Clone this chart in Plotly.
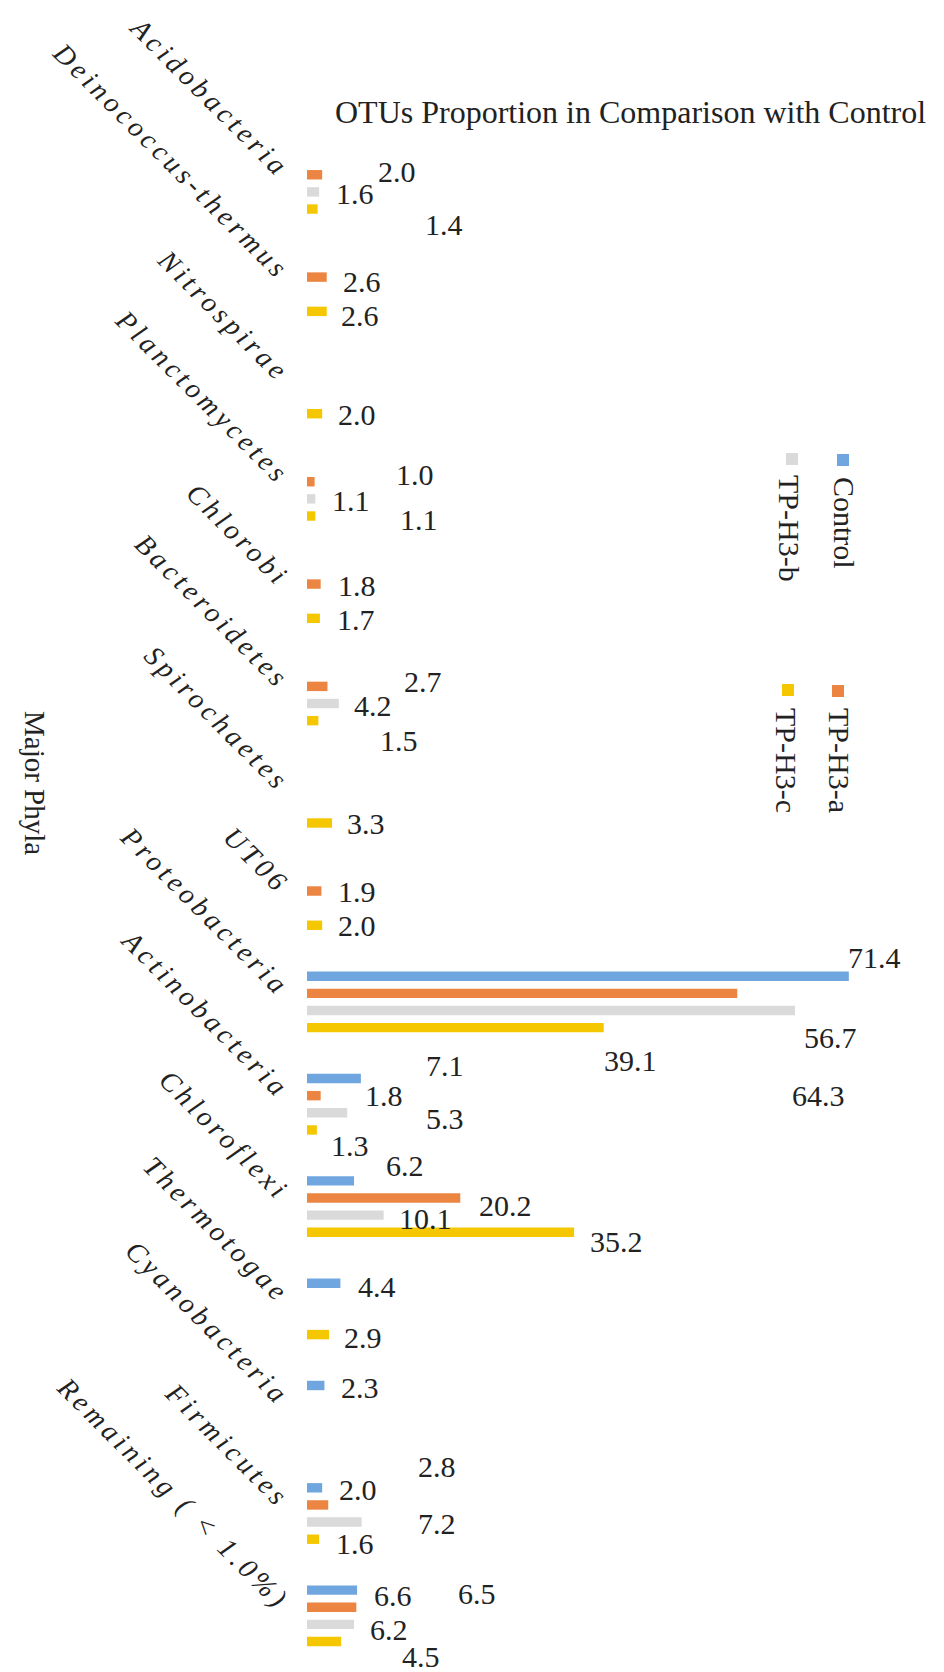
import plotly.graph_objects as go

# ---- data -------------------------------------------------------------
categories = [
    "Acidobacteria", "Deinococcus-thermus", "Nitrospirae", "Planctomycetes",
    "Chlorobi", "Bacteroidetes", "Spirochaetes", "UT06", "Proteobacteria",
    "Actinobacteria", "Chloroflexi", "Thermotogae", "Cyanobacteria",
    "Firmicutes", "Remaining ( &lt; 1.0%)",
]
series_names = ["Control", "TP-H3-a", "TP-H3-b", "TP-H3-c"]

control = [None, None, None, None, None, None, None, None, 71.4, 7.1, 6.2, 4.4, 2.3, 2.0, 6.6]
tp_h3_a = [2.0, 2.6, None, 1.0, 1.8, 2.7, None, 1.9, 56.7, 1.8, 20.2, None, None, 2.8, 6.5]
tp_h3_b = [1.6, None, None, 1.1, None, 4.2, None, None, 64.3, 5.3, 10.1, None, None, 7.2, 6.2]
tp_h3_c = [1.4, 2.6, 2.0, 1.1, 1.7, 1.5, 3.3, 2.0, 39.1, 1.3, 35.2, 2.9, None, 1.6, 4.5]

# ---- styling ----------------------------------------------------------
colors = ["#6FA6E0", "#EC8442", "#DADADA", "#F5C700"]
SERIF = "Liberation Serif, Times New Roman, serif"
TEXT = "#222222"

# value-label nudges in px (right, down) measured from each bar's end
label_nudge = [
    {8: (26, -19), 9: (84, -13), 10: (51, -15), 11: (37, 3), 12: (36, 2), 13: (36, 2), 14: (36, 6)},
    {0: (75, -3), 1: (35, 4), 3: (100, -7), 4: (36, 1), 5: (96, -5), 7: (36, 1), 8: (93, 44),
     9: (63, 0), 10: (45, 8), 13: (109, -38), 14: (121, -14)},
    {0: (36, 2), 3: (36, 2), 5: (34, 2), 8: (24, 85), 9: (98, 6), 10: (42, 3), 13: (75, 1), 14: (35, 5)},
    {0: (126, 15), 1: (33, 4), 2: (35, 1), 3: (104, 3), 4: (36, 1), 5: (81, 20), 6: (34, 0),
     7: (35, 0), 8: (27, 33), 9: (33, 15), 10: (42, 9), 11: (34, 3), 13: (36, 4), 14: (80, 15)},
]

W, H = 944, 1672
M = dict(l=307, r=17, t=124, b=5)
plot_w = W - M["l"] - M["r"]
plot_h = H - M["t"] - M["b"]
x_max = 81.7
bargap = 0.33
bargroupgap = 0.45

group_px = plot_h / len(categories)
slot_px = group_px * (1 - bargap) / len(series_names)


def px_x(px):
    return (px - M["l"]) / plot_w


def px_y(py):
    return (H - M["b"] - py) / plot_h


fig = go.Figure()
all_series = [control, tp_h3_a, tp_h3_b, tp_h3_c]
for name, vals, col in zip(series_names, all_series, colors):
    fig.add_trace(go.Bar(
        y=categories, x=vals, orientation="h", name=name,
        marker=dict(color=col, line=dict(width=0)),
        showlegend=False,
    ))

annotations = []
for i, (vals, nudges) in enumerate(zip(all_series, label_nudge)):
    bar_off = (i - (len(series_names) - 1) / 2) * slot_px
    for k, v in enumerate(vals):
        if v is None:
            continue
        dx, dy = nudges.get(k, (34, 0))
        annotations.append(dict(
            x=v, y=categories[k], xref="x", yref="y",
            text=f"{v:.1f}", showarrow=False,
            xanchor="center", yanchor="middle",
            xshift=dx, yshift=-(dy + bar_off),
            font=dict(family=SERIF, size=30, color=TEXT),
        ))

# chart heading
annotations.append(dict(
    x=px_x(630), y=px_y(112), xref="paper", yref="paper",
    text="OTUs Proportion in Comparison with Control", showarrow=False,
    xanchor="center", yanchor="middle",
    font=dict(family=SERIF, size=32, color=TEXT),
))
# category axis caption, reading downward
annotations.append(dict(
    x=px_x(35), y=px_y(783), xref="paper", yref="paper",
    text="Major Phyla", showarrow=False, textangle=90,
    xanchor="center", yanchor="middle",
    font=dict(family=SERIF, size=29, color=TEXT),
))

# legend laid out vertically, text running top-to-bottom
legend_items = [
    ("Control", colors[0], (843, 460), (845, 523)),
    ("TP-H3-b", colors[2], (792, 459), (790, 528)),
    ("TP-H3-a", colors[1], (838, 691), (840, 760)),
    ("TP-H3-c", colors[3], (788, 690), (787, 760)),
]
shapes = []
for name, col, (mx, my), (tx, ty) in legend_items:
    shapes.append(dict(
        type="rect", xref="paper", yref="paper",
        xsizemode="pixel", ysizemode="pixel",
        xanchor=px_x(mx), yanchor=px_y(my),
        x0=-6, x1=6, y0=-6, y1=6,
        fillcolor=col, line=dict(width=0),
    ))
    annotations.append(dict(
        x=px_x(tx), y=px_y(ty), xref="paper", yref="paper",
        text=name, showarrow=False, textangle=90,
        xanchor="center", yanchor="middle",
        font=dict(family=SERIF, size=30, color=TEXT),
    ))

fig.update_layout(
    width=W, height=H,
    margin=M,
    paper_bgcolor="white", plot_bgcolor="white",
    barmode="group", bargap=bargap, bargroupgap=bargroupgap,
    annotations=annotations, shapes=shapes,
    xaxis=dict(range=[0, x_max], visible=False, fixedrange=True),
    yaxis=dict(
        type="category", categoryorder="array", categoryarray=categories,
        autorange="reversed", showgrid=False, showline=False, zeroline=False,
        ticks="", tickangle=45, ticklabelstandoff=18, ticklabelshift=10,
        tickfont=dict(family=SERIF, size=28, style="italic", color=TEXT),
    ),
)

# spaced-out lettering for the phylum names
spacing_js = """
var gd = document.getElementById('{plot_id}');
function spaceTicks() {
    gd.querySelectorAll('.ytick text').forEach(function (t) {
        t.style.letterSpacing = '4px';
    });
}
spaceTicks();
gd.on('plotly_afterplot', spaceTicks);
"""

fig.write_html("out.html", post_script=spacing_js)
